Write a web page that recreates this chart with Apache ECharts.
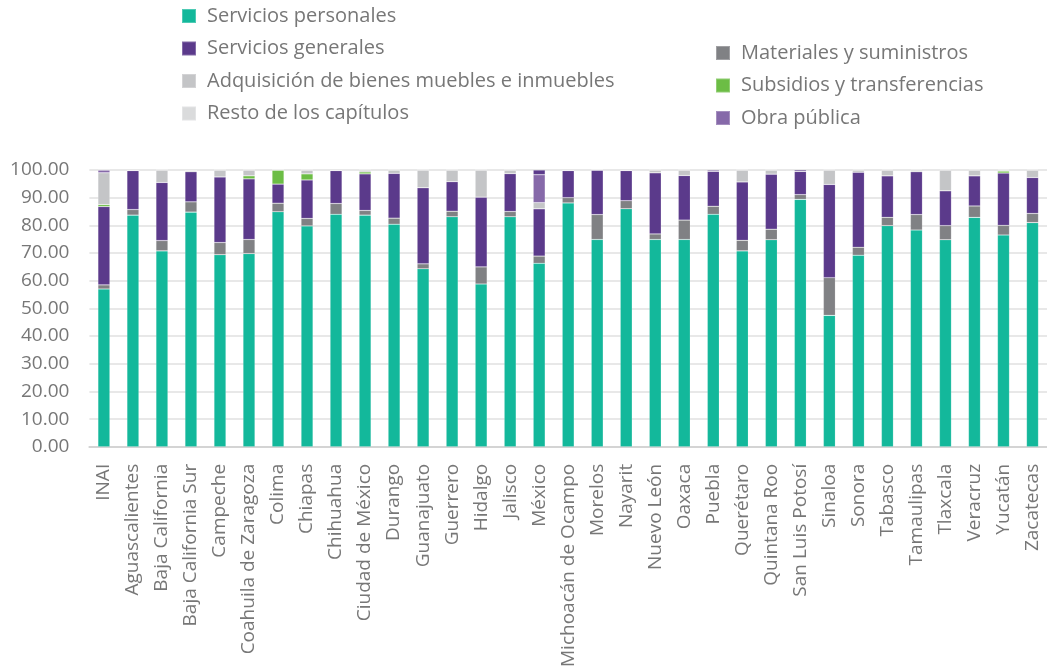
<!DOCTYPE html>
<html>
<head>
<meta charset="utf-8">
<script src="https://cdn.jsdelivr.net/npm/echarts@6/dist/echarts.min.js"></script>
<style>
html,body{margin:0;padding:0;background:#fff;}
#c{width:1047px;height:670px;}
</style>
</head>
<body>
<div id="c"></div>
<script>
const categories = ["INAI","Aguascalientes","Baja California","Baja California Sur","Campeche","Coahuila de Zaragoza","Colima","Chiapas","Chihuahua","Ciudad de México","Durango","Guanajuato","Guerrero","Hidalgo","Jalisco","México","Michoacán de Ocampo","Morelos","Nayarit","Nuevo León","Oaxaca","Puebla","Querétaro","Quintana Roo","San Luis Potosí","Sinaloa","Sonora","Tabasco","Tamaulipas","Tlaxcala","Veracruz","Yucatán","Zacatecas"];

const serviciosPersonales = [57.0,83.7,70.8,84.8,69.4,69.8,84.9,79.8,84.0,83.7,80.4,64.3,83.1,58.8,83.1,66.3,88.1,74.9,86.0,74.9,74.9,84.0,70.8,74.8,89.4,47.5,69.2,79.9,78.3,74.8,82.9,76.5,81.0];
const materiales = [1.5,2.0,3.7,3.7,4.4,5.1,3.1,2.7,3.9,1.7,2.2,1.8,2.0,6.2,1.9,2.6,1.9,9.0,2.9,2.0,7.0,2.9,3.8,3.8,1.7,13.6,2.9,3.0,5.6,5.1,4.1,3.5,3.3];
const serviciosGenerales = [28.3,14.1,21.0,10.9,23.7,21.9,6.9,13.9,11.9,13.2,16.2,27.5,10.7,25.2,13.7,17.1,9.8,16.1,10.9,22.1,16.1,12.7,21.1,19.9,8.4,33.7,27.1,15.0,15.5,12.6,10.9,18.9,13.0];
const subsidios = [0.7,0,0,0,0,1.1,5.1,2.2,0,0.7,0,0,0,0,0,0,0,0,0,0,0,0,0,0,0,0,0,0,0,0,0,0.7,0];
const adquisicion = [11.5,0,4.5,0.4,2.5,2.1,0,1.4,0,0.7,1.2,6.4,4.2,9.8,1.3,2.2,0,0,0,1.0,2.0,0,4.3,1.5,0,5.2,0.8,2.1,0.6,7.5,2.1,0.4,2.7];
const obraPublica = [1.0,0,0,0,0,0,0,0,0,0,0,0,0,0,0,10.1,0,0,0,0,0,0,0,0,0,0,0,0,0,0,0,0,0];
const restoCapitulos = [0,0,0,0,0,0,0,0,0,0,0,0,0,0,0,0,0,0,0,0,0,0,0,0,0,0,0,0,0,0,0,0,0];
const otros = [0,0.2,0,0.2,0,0,0,0,0.2,0,0,0,0,0,0,1.7,0.2,0,0.2,0,0,0.4,0,0,0.5,0,0,0,0,0,0,0,0];
const yTicks = [0,10,20,30,40,50,60,70,80,90,100];

const FONT = "'Open Sans', 'Noto Sans', sans-serif";
const TXT = '#777777';

function s(name, data, color) {
  return {
    name: name, type: 'bar', stack: 'total', data: data, barWidth: 12,
    itemStyle: { color: color, borderColor: 'rgba(255,255,255,0.25)', borderWidth: 0.6 },
    emphasis: { disabled: true }
  };
}

const chart = echarts.init(document.getElementById('c'), null, { renderer: 'canvas' });
chart.setOption({
  animation: false,
  backgroundColor: '#ffffff',
  textStyle: { fontFamily: FONT },
  legend: [
    {
      data: ['Servicios personales','Servicios generales','Adquisición de bienes muebles e inmuebles','Resto de los capítulos'],
      orient: 'vertical', left: 176, top: 1, itemGap: 12.5,
      itemWidth: 14, itemHeight: 14, icon: 'rect', selectedMode: false,
      textStyle: { fontSize: 20, lineHeight: 20, color: TXT, fontFamily: FONT, padding: [0,0,0,6] }
    },
    {
      data: ['Materiales y suministros','Subsidios y transferencias','Obra pública'],
      orient: 'vertical', left: 710, top: 38, itemGap: 12.5,
      itemWidth: 14, itemHeight: 14, icon: 'rect', selectedMode: false,
      textStyle: { fontSize: 20, lineHeight: 20, color: TXT, fontFamily: FONT, padding: [0,0,0,6] }
    }
  ],
  grid: { left: 89.4, right: -9.3, top: 170, bottom: 220, containLabel: false },
  xAxis: {
    type: 'category', data: categories,
    axisLine: { lineStyle: { color: '#d4d4d4', width: 2 } },
    axisTick: { show: false },
    axisLabel: { rotate: 90, interval: 0, margin: 17, fontSize: 19, color: TXT, fontFamily: FONT }
  },
  yAxis: {
    type: 'value', min: yTicks[0], max: yTicks[yTicks.length-1], interval: 10,
    axisLine: { show: false }, axisTick: { show: false },
    splitLine: { lineStyle: { color: '#e0e0e0', width: 1.5 } },
    axisLabel: { margin: 20, fontSize: 19, color: TXT, fontFamily: FONT, formatter: v => v.toFixed(2) }
  },
  series: [
    s('Servicios personales', serviciosPersonales, '#13b89b'),
    s('Materiales y suministros', materiales, '#808184'),
    s('Servicios generales', serviciosGenerales, '#5b3a8b'),
    s('Subsidios y transferencias', subsidios, '#6cbd45'),
    s('Adquisición de bienes muebles e inmuebles', adquisicion, '#c4c5c7'),
    s('Obra pública', obraPublica, '#8669a9'),
    s('Resto de los capítulos', restoCapitulos, '#dadbdc'),
    s('Otros', otros, '#5b3a8b')
  ]
});
</script>
</body>
</html>
